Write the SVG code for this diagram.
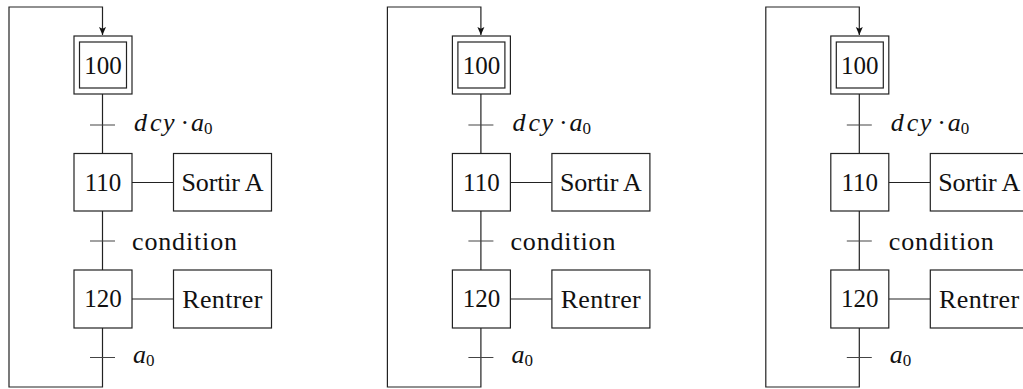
<svg xmlns="http://www.w3.org/2000/svg" width="1023" height="389" viewBox="0 0 1023 389">
<defs>
<style>
.box{fill:#fff;stroke:#222;stroke-width:1.2}
.ln{fill:none;stroke:#222;stroke-width:1.2}
.tk{fill:none;stroke:#444;stroke-width:1.1}
.t{font-family:"Liberation Serif",serif;font-size:25px;fill:#111}
.w{font-size:26px}
.c{text-anchor:middle}
.m{font-family:"Liberation Serif",serif;font-size:26px;font-style:italic;fill:#111}
.s{font-family:"Liberation Serif",serif;font-size:17px;font-style:normal;fill:#111}
</style>
<marker id="arr" viewBox="0 0 8 10" refX="8" refY="5" markerWidth="8" markerHeight="10" markerUnits="userSpaceOnUse" orient="auto">
<path d="M0,1.5 L8,5 L0,8.5 L1.8,5 Z" fill="#111"/>
</marker>
</defs>
<rect width="1023" height="389" fill="#fff"/>

<g id="diagram1">
<g id="d1-connectors">
<path class="ln" d="M102.5,94 V153.5 M102.5,211 V270 M102.5,328 V387 H9 V7 H102.5 V35" marker-end="url(#arr)"/>
<path class="ln" d="M132,182.5 H173.5 M132,299 H173.5"/>
<path class="tk" d="M90,125 H115 M90,241 H115 M90,357.5 H115"/>
</g>
<g id="d1-step100"><rect class="box" x="74" y="36" width="58" height="58"/><rect class="box" x="79.5" y="42" width="47" height="46"/><text class="t c" x="103" y="74">100</text></g>
<g id="d1-step110"><rect class="box" x="74" y="153.5" width="58" height="57.5"/><text class="t c" x="103" y="190.8">110</text></g>
<g id="d1-step120"><rect class="box" x="74" y="270" width="58" height="58"/><text class="t c" x="103" y="307.4">120</text></g>
<g id="d1-action110"><rect class="box" x="173.5" y="153.5" width="98" height="57.5"/><text class="t w c" x="222.5" y="191" textLength="82">Sortir A</text></g>
<g id="d1-action120"><rect class="box" x="173.5" y="270" width="98" height="58"/><text class="t w c" x="222.3" y="307.6" textLength="80">Rentrer</text></g>
<g id="d1-labels">
<text class="m" y="130.5"><tspan x="134">d</tspan><tspan x="150">c</tspan><tspan x="163">y</tspan><tspan x="180.5" style="font-style:normal">·</tspan><tspan x="191">a</tspan><tspan class="s" x="204" y="133.5">0</tspan></text>
<text class="t w" x="132" y="250" textLength="105">condition</text>
<text class="m" y="362.5"><tspan x="133">a</tspan><tspan class="s" x="146" y="365.5">0</tspan></text>
</g>
</g>

<g id="diagram2" transform="translate(378.4,0)">
<g id="d2-connectors">
<path class="ln" d="M102.5,94 V153.5 M102.5,211 V270 M102.5,328 V387 H9 V7 H102.5 V35" marker-end="url(#arr)"/>
<path class="ln" d="M132,182.5 H173.5 M132,299 H173.5"/>
<path class="tk" d="M90,125 H115 M90,241 H115 M90,357.5 H115"/>
</g>
<g id="d2-step100"><rect class="box" x="74" y="36" width="58" height="58"/><rect class="box" x="79.5" y="42" width="47" height="46"/><text class="t c" x="103" y="74">100</text></g>
<g id="d2-step110"><rect class="box" x="74" y="153.5" width="58" height="57.5"/><text class="t c" x="103" y="190.8">110</text></g>
<g id="d2-step120"><rect class="box" x="74" y="270" width="58" height="58"/><text class="t c" x="103" y="307.4">120</text></g>
<g id="d2-action110"><rect class="box" x="173.5" y="153.5" width="98" height="57.5"/><text class="t w c" x="222.5" y="191" textLength="82">Sortir A</text></g>
<g id="d2-action120"><rect class="box" x="173.5" y="270" width="98" height="58"/><text class="t w c" x="222.3" y="307.6" textLength="80">Rentrer</text></g>
<g id="d2-labels">
<text class="m" y="130.5"><tspan x="134">d</tspan><tspan x="150">c</tspan><tspan x="163">y</tspan><tspan x="180.5" style="font-style:normal">·</tspan><tspan x="191">a</tspan><tspan class="s" x="204" y="133.5">0</tspan></text>
<text class="t w" x="132" y="250" textLength="105">condition</text>
<text class="m" y="362.5"><tspan x="133">a</tspan><tspan class="s" x="146" y="365.5">0</tspan></text>
</g>
</g>

<g id="diagram3" transform="translate(756.8,0)">
<g id="d3-connectors">
<path class="ln" d="M102.5,94 V153.5 M102.5,211 V270 M102.5,328 V387 H9 V7 H102.5 V35" marker-end="url(#arr)"/>
<path class="ln" d="M132,182.5 H173.5 M132,299 H173.5"/>
<path class="tk" d="M90,125 H115 M90,241 H115 M90,357.5 H115"/>
</g>
<g id="d3-step100"><rect class="box" x="74" y="36" width="58" height="58"/><rect class="box" x="79.5" y="42" width="47" height="46"/><text class="t c" x="103" y="74">100</text></g>
<g id="d3-step110"><rect class="box" x="74" y="153.5" width="58" height="57.5"/><text class="t c" x="103" y="190.8">110</text></g>
<g id="d3-step120"><rect class="box" x="74" y="270" width="58" height="58"/><text class="t c" x="103" y="307.4">120</text></g>
<g id="d3-action110"><rect class="box" x="173.5" y="153.5" width="98" height="57.5"/><text class="t w c" x="222.5" y="191" textLength="82">Sortir A</text></g>
<g id="d3-action120"><rect class="box" x="173.5" y="270" width="98" height="58"/><text class="t w c" x="222.3" y="307.6" textLength="80">Rentrer</text></g>
<g id="d3-labels">
<text class="m" y="130.5"><tspan x="134">d</tspan><tspan x="150">c</tspan><tspan x="163">y</tspan><tspan x="180.5" style="font-style:normal">·</tspan><tspan x="191">a</tspan><tspan class="s" x="204" y="133.5">0</tspan></text>
<text class="t w" x="132" y="250" textLength="105">condition</text>
<text class="m" y="362.5"><tspan x="133">a</tspan><tspan class="s" x="146" y="365.5">0</tspan></text>
</g>
</g>
</svg>
